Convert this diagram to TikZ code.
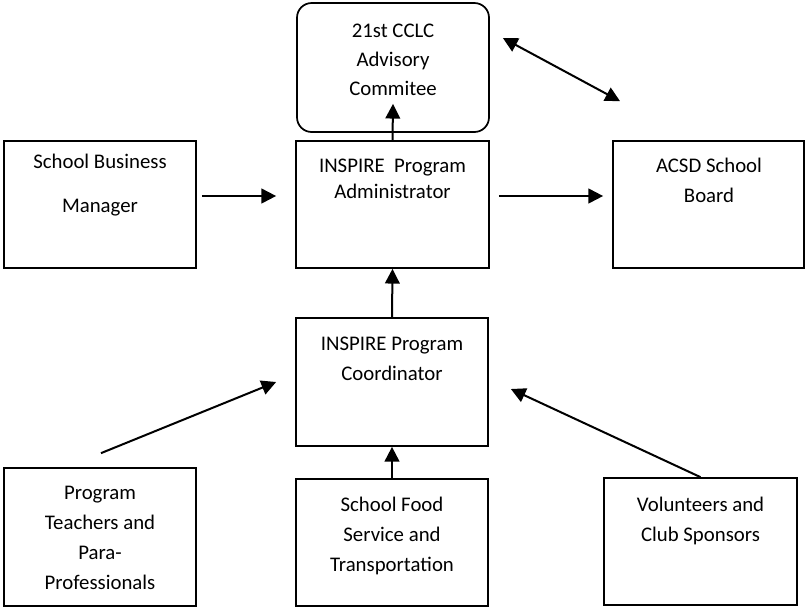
\documentclass[tikz,border=0pt]{standalone}
\usepackage{fontspec}
\setmainfont{Carlito}
\usetikzlibrary{arrows.meta}
\begin{document}
\begin{tikzpicture}[x=0.75pt,y=-0.75pt,
  box/.style={draw, line width=1.3pt, inner sep=0pt, minimum width=144pt, minimum height=95.25pt},
  txt/.style={align=center, inner sep=0pt, anchor=base},
  arr/.style={line width=1.5pt, -{Triangle[length=11pt,width=11pt]}},
  darr/.style={line width=1.5pt, {Triangle[length=11pt,width=11pt]}-{Triangle[length=11pt,width=11pt]}}]
\fill[white] (0,0) rectangle (805,608);
\useasboundingbox (0,0) rectangle (805,608);
% boxes
\node[box, rounded corners=11pt, minimum height=96.75pt] (com) at (393,67.5) {};
\node[box, minimum width=144.75pt] (adm) at (392.5,204.5) {};
\node[box] (sbm) at (100,204.5) {};
\node[box, minimum width=143.25pt] (brd) at (708.5,204.5) {};
\node[box, minimum height=96pt] (crd) at (392,382) {};
\node[box, minimum height=103.5pt] (tch) at (100,537) {};
\node[box] (fod) at (392,542.5) {};
\node[box, minimum width=144.75pt] (vol) at (700.5,541.5) {};
% texts (anchor = baseline of last line)
\node[txt, font=\fontsize{15.6}{21.75}\selectfont] (comT) at (393,95) {21st CCLC\\Advisory\\Commitee};
\node[txt, font=\fontsize{15.6}{19.5}\selectfont] (admT) at (392.5,198) {INSPIRE\ \ Program\\Administrator};
\node[txt, font=\fontsize{15.6}{33}\selectfont] (sbmT) at (100,212) {School Business\\Manager};
\node[txt, font=\fontsize{15.6}{22.5}\selectfont] (brdT) at (709,202) {ACSD School\\Board};
\node[txt, font=\fontsize{15.6}{22.5}\selectfont] (crdT) at (392,380) {INSPIRE Program\\Coordinator};
\node[txt, font=\fontsize{15.6}{22.5}\selectfont] (tchT) at (100,589) {Program\\Teachers and\\Para-\\Professionals};
\node[txt, font=\fontsize{15.6}{22.5}\selectfont] (fodT) at (392,571) {School Food\\Service and\\Transportation};
\node[txt, font=\fontsize{15.6}{22.5}\selectfont] (volT) at (700.5,541) {Volunteers and\\Club Sponsors};
% connectors
\draw[arr] ([shift={(5,-8.5)}]sbm.east) -- ([shift={(-19,-8.5)}]adm.west);
\draw[arr] ([shift={(9,-8.5)}]adm.east) -- ([shift={(-9,-8.5)}]brd.west);
\draw[arr] (adm.north) -- ([shift={(0,-29)}]com.south);
\draw[darr] ([shift={(13,-29.5)}]com.east) -- ([shift={(-88.5,-39)}]brd.north);
\draw[arr] (crd.north) -- (adm.south);
\draw[arr] (fod.north) -- (crd.south);
\draw[arr] ([shift={(1,-14)}]tch.north) -- ([shift={(-19,0)}]crd.west);
\draw[arr] (vol.north) -- ([shift={(22,7)}]crd.east);
\end{tikzpicture}
\end{document}
